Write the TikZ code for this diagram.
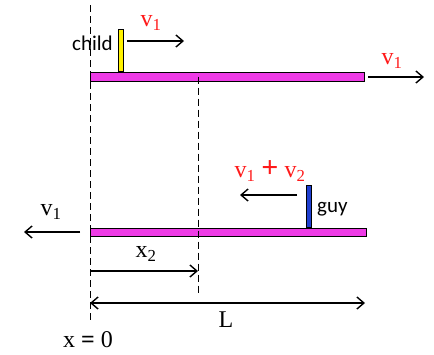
\documentclass[tikz,border=0pt]{standalone}
\usepackage{fontspec}
\setmainfont{Liberation Serif}
\newfontfamily\calibri{Carlito}
\usetikzlibrary{arrows.meta,positioning}
\definecolor{plankpink}{HTML}{EE3BE6}
\definecolor{childyellow}{HTML}{FFF200}
\definecolor{guyblue}{HTML}{1F3FD0}
\definecolor{velred}{HTML}{FF1A1A}

\begin{document}
\begin{tikzpicture}[x=1pt, y=-1pt,
    plank/.style={draw=black, fill=plankpink, line width=0.9pt, inner sep=0pt,
      minimum width=274pt, minimum height=8.5pt, anchor=north west},
    person/.style={draw=black, line width=0.8pt, inner sep=0pt,
      minimum width=4.8pt, anchor=south},
    refline/.style={draw=black, line width=0.9pt, dash pattern=on 7pt off 4pt},
    vel/.style={draw=black, line width=1.2pt, -{Straight Barb[length=7pt,width=12pt,line width=1.4pt]}},
    dimline/.style={draw=black, line width=1.2pt, {Straight Barb[length=7pt,width=12pt,line width=1.4pt]}-{Straight Barb[length=7pt,width=12pt,line width=1.4pt]}},
    redlbl/.style={text=velred, font=\fontsize{24}{26}\selectfont, inner sep=1pt},
    lbl/.style={text=black, font=\fontsize{24}{26}\selectfont, inner sep=1pt},
    wholbl/.style={text=black, font=\calibri\fontsize{21}{23}\selectfont, inner sep=1pt},
  ]
  \useasboundingbox (0,0) rectangle (434,354);

  % planks
  \node[plank] (topplank) at (90,72) {};
  \node[plank, minimum width=276pt] (botplank) at (90,227.5) {};

  % reference lines: x = 0 and x_2
  \coordinate (origtop) at (90,5);
  \coordinate (origbot) at (90,323);
  \draw[refline] (origtop) -- (origbot);
  \coordinate (xtwotop) at (198,76.5);
  \coordinate (xtwobot) at (198,296);
  \draw[refline] (xtwotop) -- (xtwobot);

  % child on the top plank
  \node[person, fill=childyellow, minimum height=42pt] (child) at (121,72) {};
  \node[wholbl, anchor=east] (childname) at (114,43) {child};
  \coordinate (childvend) at (184,41);
  \draw[vel] (127,41) -- (childvend);
  \node[redlbl] (childv) at (151,23) {v\textsubscript{1}};

  % top plank velocity
  \coordinate (topvstart) at (368,77);
  \coordinate (topvend) at (424,77);
  \draw[vel] (topvstart) -- (topvend);
  \node[redlbl] (topv) at (392,61) {v\textsubscript{1}};

  % guy on the bottom plank
  \node[person, fill=guyblue, minimum height=42pt] (guy) at (308.5,227.5) {};
  \node[wholbl, anchor=west] (guyname) at (316,209) {guy};
  \coordinate (guyvstart) at (297,195);
  \coordinate (guyvend) at (240,195);
  \draw[vel] (guyvstart) -- (guyvend);
  \node[redlbl] (guyv) at (270,171) {v\textsubscript{1} {\fontsize{30}{30}\selectfont\textbf{+}} v\textsubscript{2}};

  % bottom plank velocity
  \coordinate (botvstart) at (80,232);
  \coordinate (botvend) at (24,232);
  \draw[vel] (botvstart) -- (botvend);
  \node[lbl] (botv) at (51,212) {v\textsubscript{1}};

  % distances
  \coordinate (xtwoa) at (90,271);
  \coordinate (xtwob) at (198,271);
  \draw[vel] (xtwoa) -- (xtwob);
  \node[lbl] (xtwolbl) at (146,254) {x\textsubscript{2}};
  \coordinate (lena) at (90,303);
  \coordinate (lenb) at (365,303);
  \draw[dimline] (lena) -- (lenb);
  \node[lbl] (lenlbl) at (226,320) {L};
  \node[lbl] (origlbl) at (88,340) {x \textbf{=} 0};
\end{tikzpicture}
\end{document}
